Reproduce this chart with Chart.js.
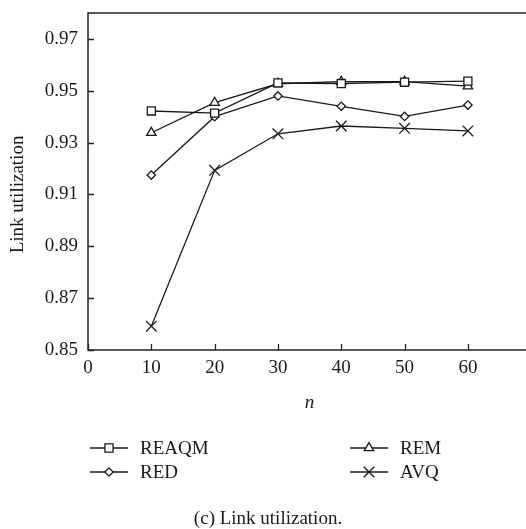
<!DOCTYPE html>
<html>
<head>
<meta charset="utf-8">
<title>Link utilization</title>
<script src="https://cdn.jsdelivr.net/npm/chart.js@4/dist/chart.umd.min.js"></script>
<style>
  html, body { margin: 0; padding: 0; background: #fff; overflow: hidden; }
  #link_chart { display: block; }
</style>
</head>
<body>
<canvas id="link_chart" width="540" height="529"></canvas>
<script>
// データ
const nValues = [10, 20, 30, 40, 50, 60];
const reaqm = [0.9422, 0.9414, 0.9530, 0.9528, 0.9533, 0.9537];
const rem   = [0.9338, 0.9454, 0.9527, 0.9535, 0.9535, 0.9518];
const red   = [0.9175, 0.9400, 0.9480, 0.9440, 0.9401, 0.9445];
const avq   = [0.8592, 0.9193, 0.9334, 0.9364, 0.9355, 0.9345];

const xTicks = [0, 10, 20, 30, 40, 50, 60];
const yTicks = [0.85, 0.87, 0.89, 0.91, 0.93, 0.95, 0.97];

const seriesNames = ['REAQM', 'REM', 'RED', 'AVQ'];
const captionText = '(c) Link utilization.';

const serif = '"Liberation Serif", "DejaVu Serif", serif';
const ink = '#1a1a1a';

window.addEventListener('load', function () {
    const ctx = document.getElementById('link_chart');

    const styles = {
        REAQM: { pointStyle: 'rect', radius: 5.7 },
        REM:   { pointStyle: 'triangle', radius: 5.4 },
        RED:   { pointStyle: 'rectRot', radius: 4.2 },
        AVQ:   { pointStyle: 'crossRot', radius: 7.5 }
    };
    const values = { REAQM: reaqm, REM: rem, RED: red, AVQ: avq };

    const datasets = seriesNames.map(name => ({
        label: name,
        data: nValues.map((n, i) => ({ x: n, y: values[name][i] })),
        borderColor: ink,
        borderWidth: 1.3,
        pointStyle: styles[name].pointStyle,
        pointRadius: styles[name].radius,
        pointBackgroundColor: '#fff',
        pointBorderColor: ink,
        pointBorderWidth: 1.3,
        tension: 0
    }));

    // frame, inward ticks, y title, legend and caption
    const extras = {
        id: 'extras',
        afterDraw(chart) {
            const c = chart.ctx;
            const a = chart.chartArea;
            const xs = chart.scales.x;
            const ys = chart.scales.y;
            c.save();

            c.strokeStyle = '#222';
            c.lineWidth = 1.5;
            c.strokeRect(a.left, a.top, a.right - a.left, a.bottom - a.top);

            c.lineWidth = 1.3;
            c.beginPath();
            yTicks.forEach(v => {
                const y = Math.round(ys.getPixelForValue(v)) + 0.5;
                c.moveTo(a.left, y);
                c.lineTo(a.left + 6, y);
            });
            xTicks.forEach(v => {
                const x = Math.round(xs.getPixelForValue(v)) + 0.5;
                c.moveTo(x, a.bottom);
                c.lineTo(x, a.bottom - 6);
            });
            c.stroke();

            // y title, centred on the labelled range
            const yMid = (ys.getPixelForValue(yTicks[0]) + ys.getPixelForValue(yTicks[yTicks.length - 1])) / 2;
            c.fillStyle = ink;
            c.font = '19px ' + serif;
            c.textAlign = 'center';
            c.textBaseline = 'middle';
            c.translate(18, yMid);
            c.rotate(-Math.PI / 2);
            c.fillText('Link utilization', 0, 0);
            c.setTransform(1, 0, 0, 1, 0, 0);

            // legend in two columns
            const slots = {
                REAQM: [90, 448], RED: [90, 472],
                REM: [350, 448], AVQ: [350, 472]
            };
            seriesNames.forEach(name => {
                const [x0, y0] = slots[name];
                c.strokeStyle = ink;
                c.lineWidth = 1.3;
                c.beginPath();
                c.moveTo(x0, y0);
                c.lineTo(x0 + 38, y0);
                c.stroke();
                c.fillStyle = '#fff';
                Chart.helpers.drawPoint(c, {
                    pointStyle: styles[name].pointStyle,
                    radius: styles[name].radius,
                    rotation: 0,
                    borderWidth: 1.3
                }, x0 + 19, y0);
                c.fillStyle = ink;
                c.font = '19px ' + serif;
                c.textAlign = 'left';
                c.textBaseline = 'middle';
                c.fillText(name, x0 + 50, y0 + 1);
            });

            c.font = '19px ' + serif;
            c.textAlign = 'center';
            c.textBaseline = 'middle';
            c.fillStyle = ink;
            c.fillText(captionText, 268, 519);

            c.restore();
        }
    };

    const link_chart = new Chart(ctx, {
        type: 'line',
        data: { datasets: datasets },
        options: {
            responsive: false,
            animation: false,
            devicePixelRatio: 1,
            layout: { padding: { left: 0, top: 13, right: 6, bottom: 115 } },
            plugins: {
                legend: { display: false },
                tooltip: { enabled: false }
            },
            scales: {
                x: {
                    type: 'linear',
                    min: 0,
                    max: 70,
                    grid: { display: false, drawTicks: false },
                    border: { display: false },
                    afterBuildTicks: s => { s.ticks = xTicks.map(v => ({ value: v })); },
                    afterFit: s => { s.height = 64; },
                    ticks: {
                        color: ink,
                        font: { family: serif, size: 19 },
                        padding: 7,
                        maxRotation: 0
                    },
                    title: {
                        display: true,
                        text: 'n',
                        color: ink,
                        font: { family: serif, size: 19, style: 'italic' },
                        padding: 0
                    }
                },
                y: {
                    min: 0.85,
                    max: 0.98,
                    grid: { display: false, drawTicks: false },
                    border: { display: false },
                    afterBuildTicks: s => { s.ticks = yTicks.map(v => ({ value: v })); },
                    afterFit: s => {
                        s.width = 88;
                        s.paddingTop = 0;
                        s.paddingBottom = 0;
                    },
                    ticks: {
                        color: ink,
                        font: { family: serif, size: 19 },
                        padding: 10,
                        callback: v => v.toFixed(2)
                    }
                }
            }
        },
        plugins: [extras]
    });
    console.log('chart area:', link_chart.chartArea);
});
</script>
</body>
</html>
